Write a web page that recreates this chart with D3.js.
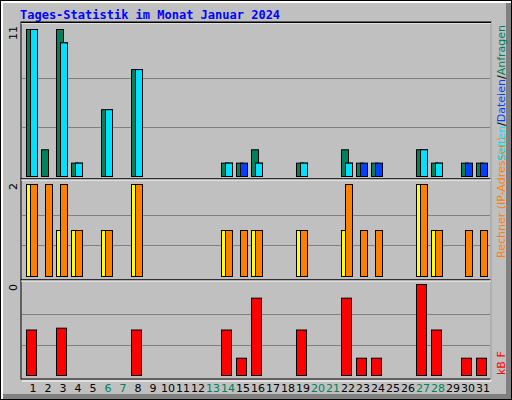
<!DOCTYPE html>
<html><head><meta charset="utf-8">
<script src="https://cdn.jsdelivr.net/npm/d3@7"></script>
<style>body{margin:0;background:#fff}</style></head>
<body><svg id="c" width="512" height="400"></svg>
<script>
const days = d3.range(1,32);
const weekend = [6,7,13,14,20,21,27,28];
const hits  = [11,2,11,1,0,5,0,8,0,0,0,0,0,1,1,2,0,0,1,0,0,2,1,1,0,0,2,1,0,1,1];
const files = [11,0,10,1,0,5,0,8,0,0,0,0,0,1,1,1,0,0,1,0,0,1,1,1,0,0,2,1,0,1,1];
const pages = [11,0,10,1,0,5,0,8,0,0,0,0,0,1,0,1,0,0,1,0,0,1,0,0,0,0,2,1,0,0,0];
const visits= [2,0,1,1,0,1,0,2,0,0,0,0,0,1,0,1,0,0,1,0,0,1,0,0,0,0,2,1,0,0,0];
const sites = [2,2,2,1,0,1,0,2,0,0,0,0,0,1,1,1,0,0,1,0,0,2,1,1,0,0,2,1,0,1,1];
const kbytes= [0.5,0,0.52,0,0,0,0,0.5,0,0,0,0,0,0.5,0.19,0.85,0,0,0.5,0,0,0.85,0.19,0.19,0,0,1.0,0.5,0,0.19,0.19];
const maxLabels = ["11","2","0"];
const svg = d3.select("#c");
// frame
svg.append("rect").attr("x",0).attr("y",0).attr("width",512).attr("height",400).attr("fill","#000");
svg.append("rect").attr("x",1).attr("y",1).attr("width",510).attr("height",398).attr("fill","#fff");
svg.append("rect").attr("x",3).attr("y",3).attr("width",508).attr("height",396).attr("fill","#808080");
svg.append("rect").attr("x",3).attr("y",3).attr("width",503).attr("height",391).attr("fill","#c0c0c0");
svg.append("text").attr("x",20).attr("y",19).text("Tages-Statistik im Monat Januar 2024")
  .attr("fill","#0000ff").attr("font-family","DejaVu Sans Mono").attr("font-weight","bold").attr("font-size",12);
const x = d3.scaleBand().domain(days).range([26,491]).paddingInner(0);
const slot = d=>26+(d-1)*15;
const panels=[
 {y0:22,y1:179,bot:176,top:29,max:11,series:[[hits,"#00805c",0,7],[files,"#0040ff",4,7],[pages,"#00e0ff",4,7]]},
 {y0:179,y1:280,bot:276,top:184,max:2,series:[[visits,"#ffff00",0,7],[sites,"#ff8000",4,7]]},
 {y0:280,y1:379,bot:375,top:284,max:1,series:[[kbytes,"#ff0000",0,10]]}
];
panels.forEach((p,i)=>{
  svg.append("rect").attr("x",21).attr("y",p.y0).attr("width",470).attr("height",p.y1-p.y0)
    .attr("fill","#c0c0c0").attr("stroke","#000").attr("stroke-width",1);
  const y=d3.scaleLinear().domain([0,p.max]).range([p.bot,p.top]);
  [1/3,2/3].forEach(f=>{const gy=Math.round(p.bot-(p.bot-p.top)*f)+0.5;
    svg.append("line").attr("x1",22).attr("x2",490).attr("y1",gy).attr("y2",gy).attr("stroke","#808080");});
  p.series.forEach(([vals,col,off,w])=>{
    svg.append("g").selectAll("rect").data(days.filter((d,k)=>vals[k]>0)).join("rect")
      .attr("x",d=>slot(d)+off+0.5).attr("width",w)
      .attr("y",d=>y(vals[d-1])+0.5).attr("height",d=>p.bot-y(vals[d-1]))
      .attr("fill",col).attr("stroke","#000").attr("stroke-width",1);
  });
  svg.append("text").attr("transform",`translate(17,${p.y0+4}) rotate(-90)`).attr("text-anchor","end")
    .attr("font-family","DejaVu Sans").attr("font-size",11).attr("fill","#000").text(maxLabels[i]);
});
// white separators
[[179],[280]].forEach(([yy])=>svg.append("line").attr("x1",21).attr("x2",491).attr("y1",yy+1).attr("y2",yy+1).attr("stroke","#fff"));
svg.append("line").attr("x1",21).attr("x2",491).attr("y1",23).attr("y2",23).attr("stroke","#fff");
svg.append("line").attr("x1",22).attr("x2",491).attr("y1",381).attr("y2",381).attr("stroke","#fff");
svg.append("line").attr("x1",491).attr("x2",491).attr("y1",22).attr("y2",381).attr("stroke","#fff");
svg.append("line").attr("x1",21).attr("x2",491).attr("y1",22.5).attr("y2",22.5).attr("stroke","#000");
// day labels
svg.append("g").selectAll("text").data(days).join("text")
  .attr("x",d=>slot(d)+7).attr("y",392).attr("text-anchor","middle")
  .attr("font-family","DejaVu Sans").attr("font-size",11)
  .attr("fill",d=>weekend.includes(d)?"#00805c":"#000").text(d=>d);
// right labels
function vlabel(y,anchor,parts){
  const t=svg.append("text").attr("transform",`translate(505,${y}) rotate(-90)`).attr("text-anchor",anchor)
    .attr("font-family","DejaVu Sans").attr("font-size",11);
  parts.forEach(([s,c])=>t.append("tspan").attr("fill",c).text(s));
}
vlabel(258,"start",[["Rechner (IP-Adressen)","#ff8000"]]);
vlabel(25,"end",[["Seiten","#00e0ff"],["/","#000"],["Dateien","#0040ff"],["/","#000"],["Anfragen","#00805c"]]);
vlabel(375,"start",[["kB F","#ff0000"]]);
</script></body></html>
